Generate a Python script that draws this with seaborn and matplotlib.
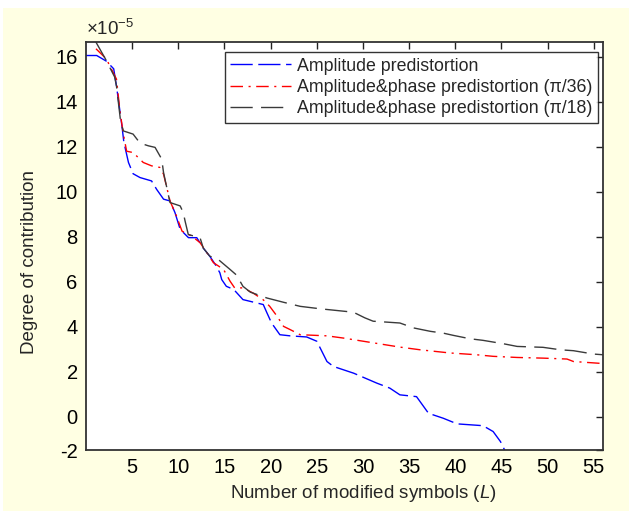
import numpy as np
import pandas as pd
import matplotlib
matplotlib.use("Agg")
import matplotlib.pyplot as plt
from matplotlib.patches import Rectangle
import seaborn as sns

# ---- data (values in units of 1e-5) ----
series_names = ["Amplitude predistortion",
                "Amplitude&phase predistortion (\u03c0/36)",
                "Amplitude&phase predistortion (\u03c0/18)"]

blue_x = [0.0, 1.16, 2.2, 3.0, 3.3, 3.9, 4.1, 4.6, 5.1, 5.85, 7.1, 7.66, 8.4, 9.1, 9.64,
          10.2, 11.1, 12.0, 12.7, 13.4, 14.0, 14.5, 14.7, 15.2, 16.0, 17.0, 19.2, 19.6,
          20.1, 21.0, 22.1, 23.9, 25.0, 26.1, 26.8, 29.0, 31.5, 32.9, 34.0, 35.8, 37.1,
          38.7, 40.2, 43.0, 44.1, 44.9, 45.5]
blue_y = [16.05, 16.05, 15.8, 15.46, 14.7, 12.9, 12.2, 11.3, 10.8, 10.63, 10.48, 10.1,
          9.67, 9.59, 9.07, 8.33, 7.96, 7.96, 7.5, 7.14, 6.77, 6.4, 6.1, 5.8, 5.66, 5.21,
          4.99, 4.62, 4.17, 3.65, 3.6, 3.55, 3.36, 2.46, 2.24, 1.94, 1.5, 1.28, 0.98, 0.9,
          0.16, -0.06, -0.31, -0.39, -0.65, -1.1, -1.6]

red_x = [1.08, 2.2, 3.3, 3.7, 4.05, 4.4, 5.1, 6.2, 7.1, 8.0, 8.4, 9.1, 9.8, 10.4, 11.45,
         12.35, 13.1, 13.8, 14.9, 15.6, 16.1, 17.0, 18.1, 19.2, 19.9, 20.7, 21.4, 22.1,
         23.2, 26.1, 27.9, 30.8, 34.0, 36.2, 39.4, 42.3, 44.1, 46.7, 49.5, 52.1, 52.8, 56.0]
red_y = [16.35, 15.9, 15.0, 13.5, 12.56, 11.8, 11.74, 11.3, 11.15, 11.08, 10.78, 9.59,
         8.92, 8.25, 8.03, 7.74, 7.29, 6.85, 6.55, 6.03, 5.73, 5.73, 5.5, 5.2, 4.91, 4.47,
         4.02, 3.88, 3.65, 3.6, 3.5, 3.31, 3.1, 2.98, 2.84, 2.76, 2.69, 2.64, 2.61, 2.57,
         2.46, 2.37]

black_x = [1.0, 2.1, 3.1, 3.3, 3.76, 4.05, 5.1, 5.85, 6.75, 7.48, 8.2, 8.4, 9.1, 10.2,
           10.54, 10.73, 11.08, 12.35, 12.7, 13.4, 14.3, 15.6, 16.3, 17.0, 17.8, 19.6,
           21.4, 23.2, 25.4, 28.96, 30.2, 31.1, 34.0, 35.5, 37.3, 38.7, 39.8, 41.6, 43.0,
           45.2, 46.7, 49.5, 51.4, 52.8, 55.0, 56.0]
black_y = [16.7, 15.9, 15.1, 14.7, 13.08, 12.7, 12.56, 12.16, 12.04, 11.97, 11.45, 10.85,
           9.52, 9.37, 9.07, 8.7, 8.1, 7.96, 7.5, 7.14, 7.0, 6.55, 6.3, 5.8, 5.54, 5.28,
           5.09, 4.91, 4.8, 4.65, 4.4, 4.25, 4.17, 3.95, 3.8, 3.72, 3.62, 3.47, 3.4, 3.25,
           3.13, 3.09, 2.98, 2.94, 2.79, 2.76]

x_ticks = [5, 10, 15, 20, 25, 30, 35, 40, 45, 50, 55]
y_tick_labels = ["-2", "0", "2", "4", "6", "8", "10", "12", "14", "16"]

# ---- style ----
sns.set_theme(style="white")
plt.rcParams["font.family"] = ["Liberation Sans", "DejaVu Sans"]
plt.rcParams["mathtext.fontset"] = "custom"
plt.rcParams["mathtext.rm"] = "Liberation Sans"
plt.rcParams["mathtext.it"] = "Liberation Sans:italic"

df = pd.concat([
    pd.DataFrame({"x": blue_x, "y": blue_y, "s": series_names[0]}),
    pd.DataFrame({"x": red_x, "y": red_y, "s": series_names[1]}),
    pd.DataFrame({"x": black_x, "y": black_y, "s": series_names[2]}),
], ignore_index=True)

palette = {series_names[0]: "#0000FF", series_names[1]: "#FF0000", series_names[2]: "#3a3a3a"}
dashes = {series_names[0]: (16, 4), series_names[1]: (9, 4, 1.5, 4), series_names[2]: (16, 6)}

bg = "#FFFFE3"
fig = plt.figure(figsize=(6.29, 5.11), dpi=100, facecolor=bg)
ax = fig.add_axes([86/629, 61/511, 517/629, 408/511])
ax.set_facecolor("white")

sns.lineplot(data=df, x="x", y="y", hue="s", style="s", palette=palette, dashes=dashes,
             estimator=None, sort=False, linewidth=1.0, ax=ax, legend=True)

ymin = -1.47
ax.set_xlim(0, 56)
ax.set_ylim(ymin, 16.65)
ax.set_xticks(x_ticks)
ax.set_xticklabels([str(t) for t in x_ticks])
ax.set_yticks([ymin] + [float(v) for v in y_tick_labels[1:]])
ax.set_yticklabels(y_tick_labels)

ax.tick_params(direction="in", length=5, width=1, colors="#222222", labelsize=14.5,
               top=True, right=True, labeltop=False, labelright=False, pad=6)
ax.tick_params(axis="both", labelcolor="black")
for sp in ax.spines.values():
    sp.set_color("#333333")
    sp.set_linewidth(1.3)
    sp.set_visible(True)

ax.set_xlabel("Number of modified symbols ($\\mathit{L}$)", fontsize=13.5)
ax.set_ylabel("Degree of contribution", fontsize=13.5)
ax.xaxis.set_label_coords(0.536, -0.082)
ax.yaxis.set_label_coords(-0.093, 0.461)

ax.text(0.0, 1.008, "\u00d710$^{-5}$", transform=ax.transAxes, fontsize=13.5,
        ha="left", va="bottom")

handles, labels = ax.get_legend_handles_labels()
leg = ax.legend(handles, labels, loc="upper right", bbox_to_anchor=(0.99, 0.975),
                fontsize=12.8, frameon=True, fancybox=False, edgecolor="black",
                handlelength=3.4, handletextpad=0.35, borderpad=0.3, labelspacing=0.25,
                borderaxespad=0.0)
leg.get_frame().set_linewidth(1.0)

# white strips at the figure's top and left edges
fig.add_artist(Rectangle((0, 1 - 8/511), 1, 8/511, transform=fig.transFigure,
                         facecolor="white", edgecolor="none", zorder=-1))
fig.add_artist(Rectangle((0, 0), 3/629, 1, transform=fig.transFigure,
                         facecolor="white", edgecolor="none", zorder=-1))

fig.savefig("out.png", dpi=100, facecolor=bg)
